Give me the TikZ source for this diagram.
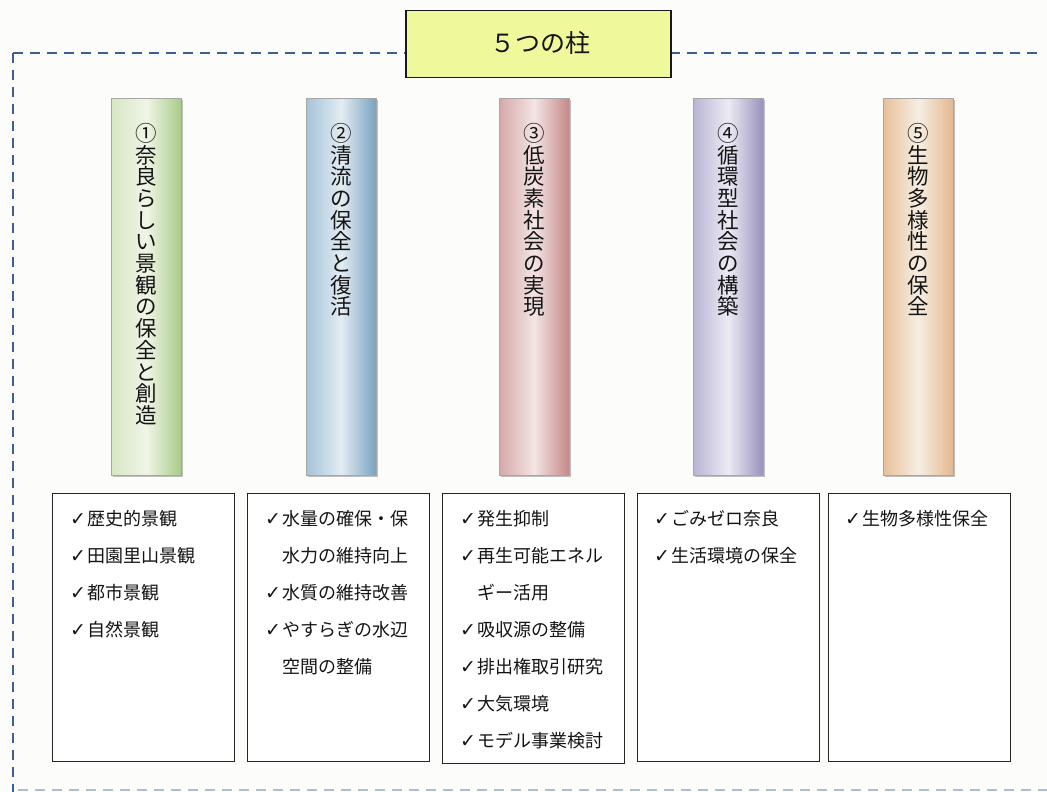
\documentclass[tikz,border=0pt]{standalone}
\usepackage{fontspec}
\setmainfont{Noto Sans CJK JP}
\newfontfamily\ckfont{DejaVu Sans}
\definecolor{framecol}{HTML}{3D5F94}
\definecolor{framelight}{HTML}{A9BEDB}
\definecolor{titlefill}{HTML}{EFF89A}
\definecolor{txt}{HTML}{151515}
\definecolor{bg}{HTML}{FCFCFA}
\newcommand{\ck}{\makebox[17pt][l]{{\ckfont\fontsize{19pt}{37pt}\selectfont ✓}}}
\newcommand{\ind}{\hspace*{17pt}}
\tikzset{
  frameline/.style={draw=framecol, line width=2pt, dash pattern=on 10pt off 7pt},
  pillar/.style={anchor=north west, minimum width=70pt, minimum height=377pt, inner sep=0pt, draw=black!35, line width=0.4pt},
  pshadow/.style={fill=black!25},
  ptext/.style={anchor=north, inner sep=0pt, align=center, text=txt, font=\fontsize{21.5pt}{21.7pt}\selectfont},
  itembox/.style={anchor=north west, minimum width=182pt, minimum height=268pt, inner sep=0pt, draw=black!85, line width=1.3pt, fill=white},
  items/.style={anchor=north west, inner sep=0pt, align=left, text=txt, font=\fontsize{18pt}{37pt}\selectfont},
  titlebox/.style={anchor=north west, minimum width=265pt, minimum height=67pt, inner sep=0pt, draw=black!90, line width=1.5pt, fill=titlefill}
}
\begin{document}
\begin{tikzpicture}[x=1pt,y=-1pt]
\useasboundingbox (0,0) rectangle (1047,792);
\fill[bg] (0,0) rectangle (1047,792);
% dashed frame
\draw[frameline] (13,53) -- (405,53);
\draw[frameline] (670,53) -- (1040,53);
\draw[frameline] (13,53) -- (13,792);
\draw[draw=framelight, line width=2pt, dash pattern=on 10pt off 7pt] (18,790) -- (1047,790);
% title
\node[titlebox] (title) at (405,10) {};
\node[text=txt, font=\fontsize{25pt}{25pt}\selectfont] (titletext) at (540,43) {５つの柱};
% pillar shadows
\foreach \x in {111,306,499,693,883}{
  \fill[pshadow] (\x+2,100) rectangle (\x+72,477);
}
% pillars
\node[pillar, left color={rgb,255:red,214;green,230;blue,196}, right color={rgb,255:red,168;green,204;blue,136}, middle color={rgb,255:red,240;green,245;blue,230}] (p1) at (111,98) {};
\node[pillar, left color={rgb,255:red,166;green,195;blue,216}, right color={rgb,255:red,122;green,162;blue,192}, middle color={rgb,255:red,226;green,236;blue,242}] (p2) at (306,98) {};
\node[pillar, left color={rgb,255:red,214;green,168;blue,168}, right color={rgb,255:red,196;green,136;blue,136}, middle color={rgb,255:red,244;green,228;blue,228}] (p3) at (499,98) {};
\node[pillar, left color={rgb,255:red,184;green,180;blue,212}, right color={rgb,255:red,152;green,146;blue,190}, middle color={rgb,255:red,236;green,235;blue,244}] (p4) at (693,98) {};
\node[pillar, left color={rgb,255:red,232;green,192;blue,154}, right color={rgb,255:red,228;green,184;blue,142}, middle color={rgb,255:red,246;green,238;blue,226}] (p5) at (883,98) {};
% pillar texts
\node[ptext, yshift=-25pt] (t1) at (p1.north) {①\\奈\\良\\ら\\し\\い\\景\\観\\の\\保\\全\\と\\創\\造};
\node[ptext, yshift=-25pt] (t2) at (p2.north) {②\\清\\流\\の\\保\\全\\と\\復\\活};
\node[ptext, yshift=-25pt] (t3) at (p3.north) {③\\低\\炭\\素\\社\\会\\の\\実\\現};
\node[ptext, yshift=-25pt] (t4) at (p4.north) {④\\循\\環\\型\\社\\会\\の\\構\\築};
\node[ptext, yshift=-25pt] (t5) at (p5.north) {⑤\\生\\物\\多\\様\\性\\の\\保\\全};
% item boxes
\node[itembox] (b1) at (52,493) {};
\node[itembox] (b2) at (247,493) {};
\node[itembox, minimum height=270pt] (b3) at (442,493) {};
\node[itembox] (b4) at (637,493) {};
\node[itembox] (b5) at (828,493) {};
% item texts
\node[items] (i1) at (70,510) {\ck 歴史的景観\\\ck 田園里山景観\\\ck 都市景観\\\ck 自然景観};
\node[items] (i2) at (265,510) {\ck 水量の確保・保\\\ind 水力の維持向上\\\ck 水質の維持改善\\\ck やすらぎの水辺\\\ind 空間の整備};
\node[items] (i3) at (460,510) {\ck 発生抑制\\\ck 再生可能エネル\\\ind ギー活用\\\ck 吸収源の整備\\\ck 排出権取引研究\\\ck 大気環境\\\ck モデル事業検討};
\node[items] (i4) at (654,510) {\ck ごみゼロ奈良\\\ck 生活環境の保全};
\node[items] (i5) at (845,510) {\ck 生物多様性保全};
\end{tikzpicture}
\end{document}
